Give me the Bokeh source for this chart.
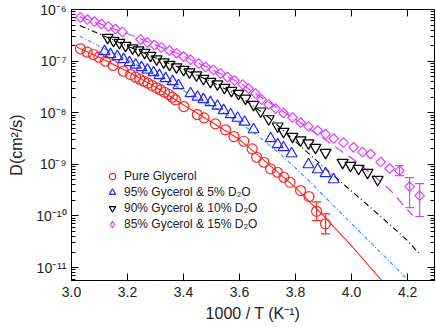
import numpy as np
from bokeh.plotting import figure
from bokeh.models import (ColumnDataSource, FixedTicker, LogAxis, LinearAxis, Range1d,
                          CustomJSTickFormatter, NumeralTickFormatter, Whisker, TeeHead,
                          Legend, LegendItem)
from bokeh.embed import file_html
from bokeh.resources import INLINE

FONT = "Liberation Sans"

# ---------------- data (x = 1000/T in 1/K, values = log10 D in cm^2/s) ----------------
gly_x = [3.032, 3.056, 3.078, 3.098, 3.121, 3.149, 3.185, 3.211, 3.229, 3.244, 3.258, 3.273,
         3.288, 3.304, 3.318, 3.332, 3.348, 3.360, 3.371, 3.401, 3.449, 3.473, 3.514, 3.550,
         3.580, 3.615, 3.645, 3.661, 3.687, 3.711, 3.735, 3.758, 3.780, 3.818, 3.848, 3.875, 3.907]
gly_logD = [-6.762, -6.827, -6.872, -6.924, -7.002, -7.085, -7.196, -7.260, -7.312, -7.351, -7.390, -7.428,
            -7.473, -7.517, -7.556, -7.603, -7.647, -7.700, -7.750, -7.880, -8.035, -8.099, -8.215, -8.331,
            -8.461, -8.552, -8.700, -8.862, -8.959, -9.087, -9.153, -9.250, -9.347, -9.508, -9.624, -9.909, -10.153]

w5_x = [3.118, 3.139, 3.164, 3.186, 3.207, 3.229, 3.250, 3.271, 3.293, 3.314, 3.336, 3.361, 3.382,
        3.425, 3.450, 3.471, 3.496, 3.521, 3.543, 3.568, 3.593, 3.618, 3.650, 3.711, 3.736, 3.757,
        3.786, 3.846, 3.879, 3.907, 3.936]
w5_logD = [-6.814, -6.872, -6.911, -6.969, -7.027, -7.076, -7.124, -7.172, -7.221, -7.279, -7.337, -7.395, -7.473,
           -7.628, -7.696, -7.744, -7.802, -7.870, -7.957, -8.035, -8.103, -8.180, -8.326, -8.500, -8.616, -8.674,
           -8.791, -9.004, -9.101, -9.178, -9.295]

w10_x = [3.129, 3.150, 3.171, 3.193, 3.218, 3.239, 3.261, 3.282, 3.304, 3.329, 3.350, 3.375, 3.400,
         3.421, 3.446, 3.471, 3.496, 3.521, 3.546, 3.571, 3.596, 3.621, 3.650, 3.675, 3.704, 3.736,
         3.757, 3.789, 3.818, 3.846, 3.871, 3.907, 3.968, 3.996, 4.025, 4.057, 4.093]
w10_logD = [-6.543, -6.601, -6.640, -6.698, -6.746, -6.785, -6.833, -6.891, -6.959, -7.017, -7.066, -7.114, -7.163,
            -7.211, -7.269, -7.337, -7.395, -7.444, -7.512, -7.570, -7.628, -7.720, -7.840, -7.970, -8.120, -8.260,
            -8.364, -8.461, -8.529, -8.587, -8.674, -8.771, -8.965, -9.023, -9.081, -9.159, -9.295]

w15_x = [3.032, 3.057, 3.082, 3.107, 3.132, 3.157, 3.182, 3.246, 3.271, 3.296, 3.321, 3.350, 3.375,
         3.400, 3.425, 3.454, 3.479, 3.507, 3.532, 3.557, 3.582, 3.611, 3.632, 3.657, 3.679, 3.704,
         3.729, 3.757, 3.789, 3.818, 3.846, 3.879, 3.907, 3.936, 3.971, 4.007, 4.039, 4.068, 4.104,
         4.136, 4.171, 4.207, 4.243]
w15_logD = [-6.155, -6.194, -6.233, -6.281, -6.329, -6.378, -6.436, -6.581, -6.640, -6.688, -6.736, -6.795, -6.847,
            -6.911, -6.975, -7.047, -7.114, -7.172, -7.240, -7.308, -7.376, -7.453, -7.531, -7.628, -7.744, -7.841,
            -7.919, -8.006, -8.093, -8.190, -8.267, -8.345, -8.413, -8.500, -8.578, -8.669, -8.762, -8.800, -8.955,
            -9.081, -9.120, -9.430, -9.605]

# error bars (log10 D upper / lower)
gly_err_x = [3.875, 3.907]
gly_err_hi = [-9.727, -9.959]
gly_err_lo = [-10.089, -10.347]
w15_err_x = [4.171, 4.207, 4.243]
w15_err_hi = [-9.023, -9.256, -9.372]
w15_err_lo = [-9.217, -9.837, -10.012]

# fit curves
fit_gly_x = [3.02, 3.1, 3.2, 3.3, 3.4, 3.5, 3.6, 3.7, 3.8, 3.9, 4.0, 4.12]
fit_gly_logD = [-6.73, -6.93, -7.20, -7.50, -7.85, -8.18, -8.52, -8.98, -9.45, -10.0, -10.58, -11.33]
fit_w5_x = [3.03, 3.2, 3.4, 3.55, 3.65, 3.75, 3.85, 3.95, 4.05, 4.15, 4.23]
fit_w5_logD = [-6.52, -6.98, -7.57, -8.02, -8.38, -8.82, -9.33, -9.88, -10.42, -10.96, -11.40]
fit_w10_x = [3.03, 3.2, 3.4, 3.5, 3.6, 3.7, 3.8, 3.9, 4.0, 4.1, 4.2, 4.24]
fit_w10_logD = [-6.31, -6.71, -7.16, -7.40, -7.68, -8.07, -8.56, -9.05, -9.52, -9.99, -10.48, -10.72]
fit_w15_x = [3.03, 3.2, 3.4, 3.6, 3.7, 3.8, 3.9, 4.0, 4.08, 4.14, 4.218]
fit_w15_logD = [-6.14, -6.47, -6.90, -7.42, -7.78, -8.13, -8.50, -8.88, -9.22, -9.51, -9.99]

labels = ["Pure Glycerol", "95% Gycerol & 5% D\u2082O", "90% Gycerol & 10% D\u2082O", "85% Gycerol & 15% D\u2082O"]
x_ticks = [3.0, 3.2, 3.4, 3.6, 3.8, 4.0, 4.2]
y_decades = [-11, -10, -9, -8, -7, -6]

RED = "#ff2626"
BLUE = "#2323ff"
LBLUE = "#3a8cff"
BLACK = "#000000"
PINK = "#dd44ff"


def D(v):
    return [10.0 ** a for a in v]


p = figure(width=436, height=327, x_range=Range1d(3.0, 4.296),
           y_range=Range1d(10 ** -11.25, 1e-6), y_axis_type="log",
           output_backend="svg", toolbar_location=None,
           min_border_left=71, min_border_right=2, min_border_top=9, min_border_bottom=47)
p.xgrid.visible = False
p.ygrid.visible = False
p.outline_line_color = "black"
p.outline_line_width = 1
p.background_fill_color = "white"
p.border_fill_color = "white"

y_major = [10.0 ** k for k in y_decades]
y_minor = [m * 10.0 ** k for k in range(-12, -6) for m in range(2, 10)]
sup_js = """
const sup = {'-':'\u207b','0':'\u2070','1':'\u00b9','2':'\u00b2','3':'\u00b3','4':'\u2074',
             '5':'\u2075','6':'\u2076','7':'\u2077','8':'\u2078','9':'\u2079'};
const e = Math.round(Math.log10(tick));
return '10' + String(e).split('').map(c => sup[c]).join('');
"""
blank = CustomJSTickFormatter(code="return '';")


def style(ax, major_len=7, minor_len=4):
    ax.axis_line_color = "black"
    ax.major_tick_line_color = "black"
    ax.minor_tick_line_color = "black"
    ax.major_tick_in = major_len
    ax.major_tick_out = 0
    ax.minor_tick_in = minor_len
    ax.minor_tick_out = 0
    ax.major_label_text_font = FONT
    ax.major_label_text_font_size = "14px"
    ax.major_label_text_color = "#222222"
    ax.axis_label_text_font = FONT
    ax.axis_label_text_font_size = "16px"
    ax.axis_label_text_font_style = "normal"
    ax.axis_label_text_color = "#222222"


# bottom x axis
xa = p.xaxis[0]
xa.ticker = FixedTicker(ticks=x_ticks)
xa.formatter = NumeralTickFormatter(format="0.0")
style(xa)
xa.minor_tick_in = 0
xa.major_label_standoff = 6
xa.axis_label = "1000 / T (K\u207b\u00b9)"
xa.axis_label_standoff = 5

# left y axis
ya = p.yaxis[0]
ya.ticker = FixedTicker(ticks=y_major, minor_ticks=y_minor)
ya.formatter = CustomJSTickFormatter(code=sup_js)
style(ya)
ya.major_label_standoff = 5
ya.axis_label = "D(cm\u00b2/s)"
ya.axis_label_standoff = 8

# top and right axes (ticks only)
top = LinearAxis(ticker=FixedTicker(ticks=x_ticks), formatter=blank)
style(top)
top.minor_tick_in = 0
top.major_label_standoff = 0
p.add_layout(top, "above")
right = LogAxis(ticker=FixedTicker(ticks=y_major, minor_ticks=y_minor), formatter=blank)
style(right)
right.major_label_standoff = 0
p.add_layout(right, "right")

# fit curves
p.line(fit_gly_x, D(fit_gly_logD), line_color=RED, line_width=1.1)
p.line(fit_w5_x, D(fit_w5_logD), line_color=LBLUE, line_width=1.1, line_dash="4 2 1 2")
p.line(fit_w10_x, D(fit_w10_logD), line_color=BLACK, line_width=1.1, line_dash="6 3 1 3")
p.line(fit_w15_x, D(fit_w15_logD), line_color=PINK, line_width=1.3, line_dash="10 6")

# error bars
src_ge = ColumnDataSource(dict(x=gly_err_x, hi=D(gly_err_hi), lo=D(gly_err_lo)))
p.add_layout(Whisker(source=src_ge, base="x", upper="hi", lower="lo", dimension="height",
                     line_color=RED, line_width=1.2,
                     upper_head=TeeHead(size=9, line_color=RED, line_width=1.2),
                     lower_head=TeeHead(size=9, line_color=RED, line_width=1.2)))
src_pe = ColumnDataSource(dict(x=w15_err_x, hi=D(w15_err_hi), lo=D(w15_err_lo)))
p.add_layout(Whisker(source=src_pe, base="x", upper="hi", lower="lo", dimension="height",
                     line_color=PINK, line_width=1.2,
                     upper_head=TeeHead(size=9, line_color=PINK, line_width=1.2),
                     lower_head=TeeHead(size=9, line_color=PINK, line_width=1.2)))

# data markers
r1 = p.scatter(gly_x, D(gly_logD), marker="circle", size=10, fill_color=None,
               line_color=RED, line_width=1.2)
r2 = p.scatter(w5_x, D(w5_logD), marker="triangle", size=11, fill_color=None,
               line_color=BLUE, line_width=1.2)
r3 = p.scatter(w10_x, D(w10_logD), marker="inverted_triangle", size=11, fill_color=None,
               line_color=BLACK, line_width=1.2)
r4 = p.scatter(w15_x, D(w15_logD), marker="square", angle=np.pi / 4, size=6.8, fill_color=None,
               line_color=PINK, line_width=1.2)
# legend-only glyph for the diamonds (legend does not rotate markers); NaN data, nothing plotted
r4_leg = p.scatter(x=[float("nan")], y=[float("nan")], marker="diamond", size=10, fill_color=None,
                   line_color=PINK, line_width=1.2)

legend = Legend(items=[LegendItem(label=labels[0], renderers=[r1]),
                       LegendItem(label=labels[1], renderers=[r2]),
                       LegendItem(label=labels[2], renderers=[r3]),
                       LegendItem(label=labels[3], renderers=[r4_leg])],
                location=(33, 48), border_line_color=None, background_fill_alpha=0,
                padding=0, margin=0, spacing=0, glyph_width=16, glyph_height=16,
                label_height=16, label_standoff=4,
                label_text_font=FONT, label_text_font_size="12px", label_text_color="#222222")
p.add_layout(legend)

open("out.html", "w").write(file_html(p, INLINE))
